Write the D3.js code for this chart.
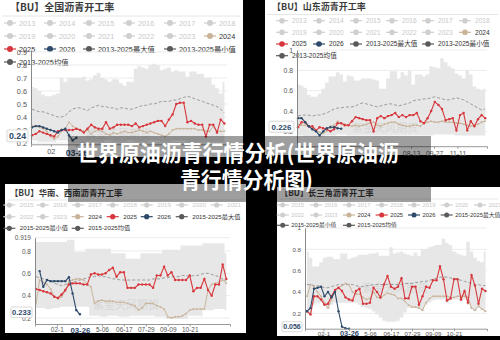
<!DOCTYPE html>
<html><head><meta charset="utf-8">
<script src="https://cdn.jsdelivr.net/npm/d3@7/dist/d3.min.js"></script>
<style>html,body{margin:0;padding:0;background:#000;}svg{display:block}</style>
</head><body>
<svg id="chart" width="500" height="340"></svg>
<script>
// ================= DATA =================
const overlayLines = ["世界原油沥青行情分析(世界原油沥", "青行情分析图)"];
const watermark = "紫金天风期货";

// ---- Chart 1: 全国 ----
const c1Title = "【BU】全国沥青开工率";
const c1Legend = ["2013","2014","2015","2016","2017","2018","2019","2020","2021","2022","2023","2024","2025","2026","2013-2025最大值","2013-2025最小值","2013-2025均值"];
const c1YTicks = [0.2,0.3,0.4,0.5,0.6,0.7,0.8,0.9];
const c1YTickLabels = ["0.2","0.3","0.4","0.5","0.6","0.7","0.8","0.9"];
const c1XTickWeeks = [5.1,12];
const c1XTickLabels = ["02","03-26"];
const c1Y2025 = [0.26,0.27,0.29,0.28,0.27,0.26,0.25,0.29,0.30,0.30,0.30,0.30,0.31,0.30,0.28,0.31,0.34,0.32,0.31,0.31,0.36,0.31,0.32,0.34,0.34,0.34,0.34,0.33,0.35,0.32,0.33,0.34,0.35,0.36,0.37,0.37,0.33,0.38,0.42,0.50,0.51,0.51,0.36,0.37,0.35,0.34,0.34,0.25,0.34,0.34,0.28,0.38,0.35];
const c1Y2024 = [0.33,0.33,0.32,0.31,0.29,0.25,0.23,0.25,0.29,0.31,0.36,0.33,0.31,0.30,0.29,0.30,0.27,0.29,0.30,0.29,0.27,0.26,0.28,0.27,0.28,0.29,0.28,0.28,0.29,0.30,0.29,0.28,0.29,0.28,0.27,0.26,0.25,0.27,0.30,0.31,0.31,0.31,0.31,0.31,0.31,0.30,0.30,0.29,0.29,0.33,0.29,0.29,0.29];
const c1Y2026 = [0.32,0.33,0.33,0.32,0.31,0.30,0.29,0.28,0.30,0.31,0.26,0.22,0.24];
const c1Mean = [0.46,0.45,0.44,0.44,0.43,0.42,0.41,0.40,0.40,0.41,0.44,0.46,0.47,0.47,0.46,0.45,0.47,0.48,0.49,0.48,0.48,0.47,0.47,0.46,0.47,0.47,0.46,0.46,0.47,0.48,0.49,0.49,0.50,0.50,0.51,0.52,0.52,0.52,0.53,0.53,0.54,0.55,0.56,0.55,0.54,0.53,0.52,0.51,0.50,0.49,0.48,0.46,0.43];
const c1Max = [0.63,0.62,0.60,0.57,0.56,0.56,0.57,0.58,0.70,0.67,0.70,0.70,0.70,0.70,0.71,0.68,0.69,0.72,0.74,0.70,0.69,0.67,0.69,0.69,0.66,0.64,0.67,0.67,0.77,0.79,0.78,0.77,0.80,0.81,0.80,0.76,0.77,0.78,0.75,0.76,0.75,0.75,0.71,0.75,0.75,0.73,0.73,0.70,0.70,0.65,0.62,0.58,0.67];
const c1Min = [0.22,0.22,0.21,0.21,0.21,0.21,0.21,0.22,0.22,0.22,0.21,0.20,0.20,0.20,0.20,0.21,0.21,0.21,0.21,0.21,0.22,0.22,0.21,0.21,0.21,0.21,0.22,0.22,0.21,0.21,0.21,0.21,0.22,0.22,0.22,0.21,0.21,0.21,0.22,0.22,0.22,0.22,0.21,0.21,0.21,0.21,0.21,0.21,0.21,0.21,0.21,0.21,0.21];

// ---- Chart 2: 山东 ----
const c2Title = "【BU】山东沥青开工率";
const c2Legend = c1Legend;
const c2YTicks = [0.2,0.4,0.6,0.8,1];
const c2YTickLabels = ["0.2","0.4","0.6","0.8","1"];
const c2XTickWeeks = [31.4,37.8,44.3];
const c2XTickLabels = ["08-13","09-27","11-11"];
const c2Y2025 = [0.24,0.29,0.29,0.25,0.25,0.21,0.24,0.23,0.22,0.20,0.22,0.28,0.28,0.26,0.26,0.30,0.34,0.33,0.32,0.31,0.31,0.20,0.33,0.35,0.33,0.35,0.36,0.38,0.34,0.36,0.34,0.36,0.36,0.38,0.30,0.28,0.33,0.40,0.49,0.46,0.42,0.31,0.32,0.33,0.21,0.36,0.38,0.21,0.30,0.25,0.32,0.36,0.33];
const c2Y2024 = [0.27,0.26,0.26,0.25,0.24,0.21,0.19,0.18,0.20,0.25,0.26,0.30,0.28,0.27,0.26,0.25,0.26,0.25,0.26,0.27,0.28,0.29,0.26,0.25,0.27,0.28,0.29,0.29,0.27,0.26,0.25,0.25,0.26,0.26,0.25,0.28,0.29,0.30,0.29,0.29,0.30,0.29,0.29,0.29,0.28,0.28,0.27,0.26,0.25,0.26,0.27,0.29,0.30];
const c2Y2026 = [0.33,0.33,0.29,0.25,0.22,0.20,0.16,0.20,0.23,0.24,0.24,0.23,0.226];
const c2Mean = [0.35,0.36,0.36,0.36,0.35,0.36,0.36,0.37,0.38,0.40,0.42,0.43,0.43,0.44,0.44,0.44,0.45,0.47,0.48,0.47,0.46,0.45,0.44,0.45,0.46,0.47,0.47,0.46,0.45,0.46,0.47,0.48,0.50,0.51,0.51,0.52,0.52,0.53,0.54,0.53,0.52,0.51,0.51,0.52,0.53,0.52,0.51,0.49,0.47,0.45,0.43,0.41,0.42];
const c2Max = [0.66,0.65,0.63,0.56,0.54,0.54,0.57,0.62,0.68,0.74,0.74,0.78,0.76,0.69,0.75,0.74,0.70,0.70,0.72,0.72,0.72,0.71,0.70,0.62,0.62,0.72,0.79,0.79,0.72,0.78,0.75,0.80,0.66,0.76,0.76,0.74,0.76,0.84,0.83,0.82,0.92,0.88,0.84,0.82,0.77,0.75,0.72,0.80,0.76,0.64,0.62,0.61,0.62];
const c2Min = [0.16,0.16,0.15,0.15,0.15,0.15,0.15,0.15,0.16,0.16,0.16,0.17,0.17,0.17,0.16,0.16,0.16,0.16,0.16,0.16,0.16,0.16,0.16,0.16,0.16,0.16,0.16,0.16,0.16,0.16,0.16,0.16,0.16,0.16,0.16,0.16,0.16,0.16,0.17,0.17,0.17,0.17,0.17,0.17,0.16,0.16,0.16,0.16,0.16,0.16,0.16,0.16,0.16];

// ---- Chart 3: 华南、西南 ----
const c3Title = "【BU】华南、西南沥青开工率";
const c3Legend = ["2015","2016","2017","2018","2019","2020","2021","2022","2023","2024","2025","2026","2015-2025最大值","2015-2025最小值","2015-2025均值"];
const c3YTicks = [0.2,0.4,0.6,0.8,0.919];
const c3YTickLabels = ["0.2","0.4","0.6","0.8","0.919"];
const c3XTickWeeks = [5.7,12,18,24,30,36,42];
const c3XTickLabels = ["02-1","03-26","5-06","06-17","07-29","09-09","10-21"];
const c3Y2025 = [0.46,0.45,0.44,0.43,0.42,0.39,0.38,0.41,0.45,0.50,0.51,0.51,0.51,0.50,0.50,0.59,0.60,0.59,0.59,0.60,0.63,0.65,0.57,0.61,0.61,0.47,0.47,0.47,0.50,0.50,0.50,0.50,0.47,0.58,0.58,0.66,0.58,0.61,0.54,0.54,0.54,0.54,0.58,0.44,0.47,0.47,0.55,0.45,0.40,0.50,0.50,0.68,0.55];
const c3Y2024 = [0.33,0.54,0.52,0.50,0.46,0.39,0.37,0.39,0.44,0.53,0.54,0.55,0.55,0.54,0.50,0.48,0.33,0.35,0.36,0.35,0.35,0.35,0.34,0.34,0.34,0.33,0.32,0.31,0.27,0.29,0.33,0.33,0.33,0.31,0.30,0.28,0.21,0.20,0.21,0.21,0.22,0.24,0.27,0.28,0.28,0.28,0.28,0.45,0.50,0.51,0.52,0.54,0.51];
const c3Y2026 = [0.62,0.48,0.54,0.53,0.53,0.53,0.53,0.53,0.565,0.42,0.27,0.233];
const c3Mean = [0.57,0.56,0.55,0.54,0.53,0.51,0.50,0.49,0.50,0.51,0.52,0.53,0.54,0.55,0.56,0.57,0.57,0.58,0.57,0.57,0.56,0.55,0.55,0.54,0.54,0.54,0.54,0.54,0.54,0.54,0.54,0.54,0.55,0.55,0.55,0.56,0.56,0.57,0.57,0.57,0.58,0.58,0.57,0.58,0.58,0.59,0.60,0.60,0.59,0.58,0.57,0.55,0.53];
const c3Max = [0.88,0.88,0.88,0.88,0.88,0.88,0.88,0.88,0.88,0.90,0.90,0.79,0.79,0.79,0.82,0.82,0.82,0.82,0.82,0.82,0.82,0.78,0.78,0.78,0.78,0.73,0.73,0.73,0.73,0.78,0.78,0.78,0.78,0.78,0.78,0.81,0.81,0.81,0.81,0.81,0.85,0.85,0.85,0.85,0.85,0.85,0.87,0.87,0.87,0.87,0.87,0.87,0.78];
const c3Min = [0.29,0.29,0.29,0.28,0.28,0.29,0.29,0.30,0.30,0.30,0.30,0.30,0.30,0.30,0.30,0.22,0.22,0.22,0.21,0.21,0.22,0.22,0.22,0.21,0.21,0.21,0.22,0.22,0.22,0.22,0.22,0.22,0.22,0.21,0.21,0.21,0.19,0.19,0.19,0.19,0.19,0.19,0.22,0.22,0.22,0.22,0.27,0.27,0.27,0.28,0.28,0.28,0.27];

// ---- Chart 4: 长三角 ----
const c4Title = "【BU】长三角沥青开工率";
const c4Legend = c3Legend;
const c4YTicks = [0.2,0.4,0.6,0.8,1];
const c4YTickLabels = ["0.2","0.4","0.6","0.8","1"];
const c4XTickWeeks = [4.7,12,18,24,30,36,42];
const c4XTickLabels = ["02-1","03-26","5-06","06-17","07-29","09-09","10-21"];
const c4Y2025 = [0.22,0.19,0.36,0.36,0.33,0.28,0.29,0.36,0.42,0.44,0.41,0.35,0.33,0.32,0.41,0.43,0.29,0.29,0.30,0.44,0.40,0.35,0.47,0.55,0.45,0.43,0.45,0.53,0.34,0.34,0.45,0.45,0.28,0.36,0.45,0.44,0.51,0.51,0.64,0.52,0.32,0.34,0.52,0.52,0.33,0.41,0.30,0.56,0.46,0.29,0.43,0.41];
const c4Y2024 = [0.36,0.47,0.45,0.40,0.36,0.30,0.25,0.33,0.40,0.44,0.46,0.48,0.47,0.40,0.38,0.38,0.35,0.33,0.34,0.40,0.35,0.34,0.37,0.39,0.38,0.37,0.34,0.34,0.31,0.28,0.26,0.26,0.25,0.23,0.30,0.34,0.36,0.36,0.36,0.36,0.36,0.35,0.35,0.36,0.36,0.36,0.35,0.25,0.23,0.27,0.24,0.22];
const c4Y2026 = [0.22,0.25,0.43,0.44,0.45,0.36,0.40,0.35,0.40,0.22,0.075,0.06,0.056];
const c4Mean = [0.47,0.47,0.46,0.46,0.45,0.44,0.44,0.45,0.46,0.47,0.47,0.47,0.47,0.47,0.46,0.45,0.45,0.46,0.46,0.47,0.47,0.47,0.47,0.47,0.47,0.47,0.47,0.47,0.48,0.48,0.48,0.49,0.49,0.50,0.50,0.51,0.52,0.53,0.54,0.54,0.54,0.53,0.53,0.52,0.51,0.50,0.49,0.48,0.47,0.47,0.46,0.46];
const c4Max = [0.78,0.72,0.64,0.64,0.68,0.72,0.73,0.73,0.71,0.71,0.76,0.76,0.71,0.72,0.73,0.75,0.75,0.75,0.76,0.76,0.77,0.74,0.74,0.74,0.82,0.76,0.77,0.78,0.76,0.75,0.74,0.77,0.74,0.80,0.80,0.82,0.83,0.84,0.84,0.90,0.86,0.84,0.78,0.76,0.75,0.74,0.87,0.78,0.72,0.69,0.68,0.78];
const c4Min = [0.20,0.18,0.28,0.30,0.30,0.27,0.24,0.28,0.30,0.30,0.30,0.30,0.30,0.30,0.30,0.28,0.26,0.25,0.24,0.22,0.19,0.16,0.13,0.12,0.12,0.12,0.13,0.16,0.21,0.25,0.25,0.25,0.24,0.22,0.28,0.30,0.32,0.33,0.33,0.33,0.30,0.32,0.33,0.33,0.32,0.33,0.28,0.24,0.22,0.25,0.23,0.21];

// ================= STYLE / LAYOUT =================
const COL = {red:"#d7373c", navy:"#2e4a6a", tan:"#c9b49a", stat:"#5a5a5a", off:"#cfcfcf", band:"#e4e4e4", mean:"#9a9a9a"};
const FONT = "'Liberation Sans','Noto Sans CJK SC',sans-serif";
const CJK = "'Noto Sans CJK SC','Liberation Sans',sans-serif";

const panels = [
  {x:0, y:0, w:243, h:157},
  {x:265, y:0, w:235, h:155},
  {x:5, y:184, w:241, h:149},
  {x:277, y:187, w:223, h:149}
];

const charts = [
  {title:c1Title, tx:10, ty:10.5, tfs:10, sep:16, panel:panels[0],
   legend:c1Legend, lRows:[23,36,49,62], lSlots:[10,50,89,129,170,210], lOff:9, lfs:7.3, lr:3,
   lPos:[[0,0],[0,1],[0,2],[0,3],[0,4],[0,5],[1,0],[1,1],[1,2],[1,3],[1,4],[1,5],[2,0],[2,1],[2,2],[2,4],[3,0]],
   left:31, right:227, x0:32, dx:3.7, ylo:0.19, yhi:0.915, yb:144.3, yt:50, navyStart:0,
   yTicks:c1YTicks, yLabels:c1YTickLabels, xWeeks:c1XTickWeeks, xLabels:c1XTickLabels, xlOff:8, afs:7.3,
   s2024:c1Y2024, s2025:c1Y2025, s2026:c1Y2026, mean:c1Mean, max:c1Max, min:c1Min, boxfs:8.8, boxW:21,
   wm:{x:118, y:138}},
  {title:c2Title, tx:272, ty:10, tfs:9, sep:14.5, panel:panels[1],
   legend:c2Legend, lRows:[20.7,32.3,44,55.7], lSlots:[282,319,356,392,428,465], lOff:10, lfs:6.6, lr:2.8,
   lPos:[[0,0],[0,1],[0,2],[0,3],[0,4],[0,5],[1,0],[1,1],[1,2],[1,3],[1,4],[1,5],[2,0],[2,1],[2,2],[2,4],[3,0]],
   left:297, right:487, x0:298, dx:3.6, ylo:0.054, yhi:1, yb:146.2, yt:50, navyStart:0,
   yTicks:c2YTicks, yLabels:c2YTickLabels, xWeeks:c2XTickWeeks, xLabels:c2XTickLabels, xlOff:8, afs:6.8,
   s2024:c2Y2024, s2025:c2Y2025, s2026:c2Y2026, mean:c2Mean, max:c2Max, min:c2Min, boxfs:8, boxW:25,
   wm:{x:385, y:132}},
  {title:c3Title, tx:10, ty:195.5, tfs:8.4, sep:200, panel:panels[2],
   legend:c3Legend, lRows:[205,216.7,228.3], lSlots:[9.3,42.7,77.7,112.7,146.7,181.7,216.7], lOff:10.5, lfs:6.2, lr:2.6,
   lPos:[[0,0],[0,1],[0,2],[0,3],[0,4],[0,5],[0,6],[1,0],[1,1],[1,2],[1,3],[1,4],[1,5],[2,0],[2,2]],
   left:35, right:230, x0:36, dx:3.66, ylo:0.146, yhi:0.919, yb:324, yt:237.7, navyStart:1,
   yTicks:c3YTicks, yLabels:c3YTickLabels, xWeeks:c3XTickWeeks, xLabels:c3XTickLabels, xlOff:6.5, afs:6.5,
   s2024:c3Y2024, s2025:c3Y2025, s2026:c3Y2026, mean:c3Mean, max:c3Max, min:c3Min, boxfs:7.6, boxW:21,
   wm:{x:126, y:309}},
  {title:c4Title, tx:280, ty:195.5, tfs:8.2, sep:199, panel:panels[3],
   legend:c4Legend, lRows:[205,215,225.3], lSlots:[282.7,316,349,381.7,414,446.7,480], lOff:8.5, lfs:5.8, lr:2.5,
   lPos:[[0,0],[0,1],[0,2],[0,3],[0,4],[0,5],[0,6],[1,0],[1,1],[1,2],[1,3],[1,4],[1,5],[2,0],[2,2]],
   left:305, right:487, x0:307, dx:3.5, ylo:0.056, yhi:1, yb:328.7, yt:228, navyStart:0,
   yTicks:c4YTicks, yLabels:c4YTickLabels, xWeeks:c4XTickWeeks, xLabels:c4XTickLabels, xlOff:5.5, afs:6.2,
   s2024:c4Y2024, s2025:c4Y2025, s2026:c4Y2026, mean:c4Mean, max:c4Max, min:c4Min, boxfs:7, boxW:20,
   wm:{x:395, y:292}}
];

// ================= DRAW =================
const svg = d3.select("#chart");
svg.append("rect").attr("width",500).attr("height",340).attr("fill","#000");
svg.selectAll("rect.panel").data(panels).join("rect").attr("class","panel")
  .attr("x",d=>d.x).attr("y",d=>d.y).attr("width",d=>d.w).attr("height",d=>d.h).attr("fill","#fff");

function legendColor(name){
  if(name==="2024") return COL.tan;
  if(name==="2025") return COL.red;
  if(name==="2026") return COL.navy;
  if(name.indexOf("-")>0) return COL.stat;
  return COL.off;
}

function drawChart(c){
  const g = svg.append("g");
  const p = c.panel;
  // title
  g.append("text").attr("x",c.tx).attr("y",c.ty).text(c.title)
    .attr("font-family",CJK).attr("font-size",c.tfs).attr("font-weight",700).attr("fill","#3a3a3a");
  g.append("line").attr("x1",p.x+2).attr("x2",p.x+p.w-2).attr("y1",c.sep).attr("y2",c.sep)
    .attr("stroke","#e6e6e6").attr("stroke-width",1);
  // legend
  c.legend.forEach((name,i)=>{
    const [r,s] = c.lPos[i];
    const cx = c.lSlots[s], cy = c.lRows[r];
    const col = legendColor(name);
    const active = col!==COL.off;
    g.append("line").attr("x1",cx-6).attr("x2",cx+6).attr("y1",cy).attr("y2",cy)
      .attr("stroke",col).attr("stroke-width",1.2);
    g.append("circle").attr("cx",cx).attr("cy",cy).attr("r",c.lr).attr("fill",col);
    g.append("text").attr("x",cx+c.lOff).attr("y",cy).attr("dy","0.35em").text(name)
      .attr("font-family",FONT).attr("font-size",c.lfs).attr("fill",active?"#333":"#c8c8c8");
  });

  const wMin = (c.left-c.x0)/c.dx, wMax = (c.right-c.x0)/c.dx;
  const x = d3.scaleLinear().domain([wMin,wMax]).range([c.left,c.right]);
  const y = d3.scaleLinear().domain([c.ylo,c.yhi]).range([c.yb,c.yt]);

  // grid
  g.append("g").selectAll("line").data(c.yTicks).join("line")
    .attr("x1",c.left).attr("x2",c.right).attr("y1",d=>y(d)).attr("y2",d=>y(d))
    .attr("stroke","#ececec").attr("stroke-width",1);

  // min-max band
  const idx = d3.range(c.max.length);
  g.append("path").datum(idx)
    .attr("d", d3.area().curve(d3.curveStep).x(i=>x(i)).y0(i=>y(c.min[i])).y1(i=>y(c.max[i])))
    .attr("fill",COL.band).attr("opacity",0.9);

  // watermark
  g.append("text").attr("x",c.wm.x).attr("y",c.wm.y).attr("text-anchor","middle").text(watermark)
    .attr("font-family",CJK).attr("font-size",11).attr("fill","#d2d2d2").attr("opacity",0.7);

  // mean dashed
  const line = d3.line().x(d=>x(d[0])).y(d=>y(d[1]));
  g.append("path").datum(c.mean.map((v,i)=>[i,v])).attr("d",line)
    .attr("fill","none").attr("stroke",COL.mean).attr("stroke-width",1).attr("stroke-dasharray","3,2");

  function series(vals, start, col, w, r){
    const pts = vals.map((v,i)=>[i+start,v]);
    g.append("path").datum(pts).attr("d",line).attr("fill","none").attr("stroke",col).attr("stroke-width",w);
    g.append("g").selectAll("circle").data(pts).join("circle")
      .attr("cx",d=>x(d[0])).attr("cy",d=>y(d[1])).attr("r",r).attr("fill",col);
  }
  series(c.s2024, 0, COL.tan, 1, 0.9);
  series(c.s2025, 0, COL.red, 1.1, 1.2);
  series(c.s2026, c.navyStart, COL.navy, 1.1, 1.2);

  // axes
  const yAxis = d3.axisLeft(y).tickValues(c.yTicks).tickSize(0).tickPadding(4)
    .tickFormat((d,i)=>c.yLabels[i]);
  const ya = g.append("g").attr("transform",`translate(${c.left},0)`).call(yAxis);
  ya.select(".domain").attr("stroke","#888");
  ya.selectAll("text").attr("font-family",FONT).attr("font-size",c.afs).attr("fill","#555");

  const xAxis = d3.axisBottom(x).tickValues(c.xWeeks).tickSize(2.5).tickPadding(2)
    .tickFormat((d,i)=>c.xLabels[i]);
  const xa = g.append("g").attr("transform",`translate(0,${c.yb})`).call(xAxis);
  xa.select(".domain").attr("stroke","#999");
  xa.selectAll(".tick line").attr("stroke","#999");
  xa.selectAll("text").attr("font-family",FONT).attr("font-size",c.afs).attr("fill","#555")
    .attr("y",c.xlOff-3).attr("dy","0.71em");
  xa.selectAll(".tick").filter((d,i)=>c.xLabels[i]==="03-26").select("text")
    .attr("font-weight",700).attr("fill",COL.navy).attr("font-size",c.afs*1.2);

  // last value box
  const last = c.s2026[c.s2026.length-1];
  const by = y(last)-2;
  const bh = c.boxfs+3;
  g.append("rect").attr("x",c.left-3-c.boxW).attr("y",by-bh/2).attr("width",c.boxW).attr("height",bh)
    .attr("fill","#fff").attr("stroke","#cfcfcf").attr("stroke-width",0.8).attr("rx",1);
  g.append("text").attr("x",c.left-3-c.boxW/2).attr("y",by).attr("dy","0.36em").attr("text-anchor","middle")
    .text(String(last)).attr("font-family",FONT).attr("font-size",c.boxfs).attr("font-weight",700).attr("fill",COL.navy);
}
charts.forEach(drawChart);

// overlay banner
svg.append("rect").attr("x",68).attr("y",136).attr("width",363).attr("height",66).attr("fill","rgba(0,0,0,0.38)");
const ov = [{x:77,y:161,len:322},{x:180,y:188,len:133}];
overlayLines.forEach((t,i)=>{
  svg.append("text").attr("x",ov[i].x).attr("y",ov[i].y).text(t)
    .attr("textLength",ov[i].len).attr("lengthAdjust","spacingAndGlyphs")
    .attr("font-family",CJK).attr("font-size",21.5).attr("font-weight",700).attr("fill","#fff");
});
</script>
</body></html>
